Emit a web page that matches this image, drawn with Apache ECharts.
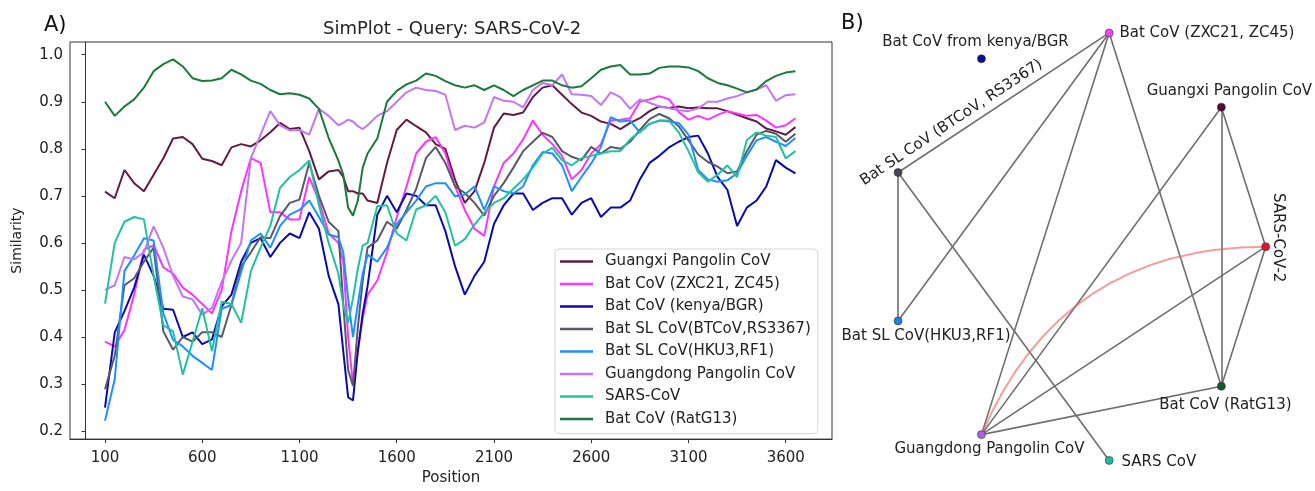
<!DOCTYPE html>
<html>
<head>
<meta charset="utf-8">
<title>SimPlot - Query: SARS-CoV-2</title>
<script src="https://cdn.jsdelivr.net/npm/echarts@6/dist/echarts.min.js"></script>
<style>
  html, body { margin: 0; padding: 0; background: #fff; }
  #chart { width: 1315px; height: 491px; }
</style>
</head>
<body>
<div id="chart"></div>
<script>
// genome position (window centre) for every sample
const positions = [
  100, 150, 200, 250, 300, 350, 400, 450, 500, 550,
  600, 650, 700, 750, 800, 850, 900, 950, 1000, 1050,
  1100, 1150, 1200, 1250, 1300, 1325, 1350, 1375, 1400, 1425, 1450,
  1500, 1550, 1600, 1650, 1700, 1750, 1800, 1850, 1900, 1950,
  2000, 2050, 2100, 2150, 2200, 2250, 2300, 2350, 2400, 2450,
  2500, 2550, 2600, 2650, 2700, 2750, 2800, 2850, 2900, 2950,
  3000, 3050, 3100, 3150, 3200, 3250, 3300, 3350, 3400, 3450,
  3500, 3550, 3600, 3650
];

const guangxi = [
  0.709, 0.695, 0.755, 0.727, 0.710, 0.745, 0.780, 0.822, 0.825, 0.810,
  0.779, 0.774, 0.765, 0.803, 0.810, 0.805, 0.818, 0.835, 0.855, 0.842,
  0.845, 0.795, 0.735, 0.752, 0.755, 0.740, 0.710, 0.710, 0.705, 0.705, 0.690,
  0.685, 0.770, 0.840, 0.862, 0.848, 0.835, 0.810, 0.800, 0.734, 0.685,
  0.710, 0.770, 0.845, 0.875, 0.872, 0.877, 0.910, 0.930, 0.935, 0.915,
  0.895, 0.877, 0.870, 0.858, 0.853, 0.842, 0.855, 0.865, 0.880, 0.890,
  0.887, 0.890, 0.886, 0.888, 0.886, 0.886, 0.880, 0.872, 0.865, 0.858,
  0.843, 0.837, 0.830, 0.846
];
const zxc21 = [
  0.390, 0.380, 0.415, 0.490, 0.585, 0.595, 0.548, 0.535, 0.505, 0.490,
  0.470, 0.450, 0.500, 0.625, 0.710, 0.780, 0.770, 0.665, 0.665, 0.650,
  0.650, 0.740, 0.690, 0.620, 0.600, 0.560, 0.400, 0.300, 0.370, 0.440, 0.490,
  0.520, 0.580, 0.655, 0.720, 0.790, 0.815, 0.825, 0.790, 0.720, 0.670,
  0.630, 0.615, 0.720, 0.770, 0.790, 0.820, 0.860, 0.830, 0.810, 0.785,
  0.735, 0.755, 0.790, 0.810, 0.860, 0.862, 0.865, 0.900, 0.905, 0.912,
  0.905, 0.878, 0.862, 0.870, 0.862, 0.872, 0.880, 0.875, 0.870, 0.872,
  0.860, 0.845, 0.850, 0.865
];
const kenya = [
  0.250, 0.410, 0.455, 0.505, 0.575, 0.530, 0.460, 0.458, 0.400, 0.410,
  0.385, 0.395, 0.465, 0.490, 0.560, 0.600, 0.610, 0.570, 0.600, 0.620,
  0.610, 0.665, 0.630, 0.530, 0.470, 0.370, 0.272, 0.265, 0.370, 0.450, 0.508,
  0.660, 0.700, 0.665, 0.705, 0.700, 0.680, 0.680, 0.625, 0.550, 0.490,
  0.530, 0.560, 0.640, 0.680, 0.705, 0.705, 0.670, 0.685, 0.695, 0.695,
  0.660, 0.685, 0.695, 0.655, 0.675, 0.675, 0.690, 0.735, 0.770, 0.785,
  0.803, 0.815, 0.825, 0.828, 0.790, 0.740, 0.713, 0.636, 0.675, 0.690,
  0.720, 0.776, 0.760, 0.748
];
const btcov = [
  0.289, 0.360, 0.510, 0.525, 0.560, 0.590, 0.412, 0.373, 0.400, 0.390,
  0.410, 0.410, 0.400, 0.468, 0.550, 0.580, 0.612, 0.610, 0.657, 0.685,
  0.692, 0.770, 0.700, 0.645, 0.625, 0.470, 0.330, 0.296, 0.420, 0.520, 0.590,
  0.605, 0.645, 0.630, 0.670, 0.715, 0.780, 0.804, 0.770, 0.720, 0.706,
  0.685, 0.658, 0.700, 0.727, 0.760, 0.795, 0.815, 0.834, 0.825, 0.795,
  0.783, 0.776, 0.804, 0.790, 0.804, 0.800, 0.815, 0.840, 0.863, 0.874,
  0.865, 0.848, 0.818, 0.788, 0.772, 0.762, 0.748, 0.752, 0.795, 0.830,
  0.838, 0.832, 0.815, 0.832
];
const hku3 = [
  0.222, 0.310, 0.540, 0.573, 0.610, 0.605, 0.450, 0.394, 0.380, 0.360,
  0.345, 0.330, 0.460, 0.468, 0.538, 0.605, 0.620, 0.590, 0.636, 0.660,
  0.670, 0.690, 0.655, 0.618, 0.612, 0.580, 0.482, 0.400, 0.470, 0.535, 0.575,
  0.560, 0.590, 0.640, 0.665, 0.690, 0.720, 0.727, 0.727, 0.699, 0.703,
  0.720, 0.670, 0.720, 0.710, 0.705, 0.720, 0.765, 0.793, 0.790, 0.765,
  0.710, 0.740, 0.769, 0.804, 0.867, 0.858, 0.860, 0.835, 0.853, 0.860,
  0.858, 0.855, 0.830, 0.755, 0.735, 0.730, 0.733, 0.748, 0.785, 0.818,
  0.825, 0.815, 0.806, 0.823
];
const guangdong = [
  0.500, 0.510, 0.570, 0.565, 0.580, 0.635, 0.590, 0.530, 0.486, 0.480,
  0.447, 0.462, 0.517, 0.562, 0.600, 0.780, 0.830, 0.880, 0.850, 0.839,
  0.840, 0.830, 0.885, 0.870, 0.850, 0.855, 0.862, 0.858, 0.848, 0.842, 0.850,
  0.870, 0.880, 0.900, 0.920, 0.930, 0.925, 0.923, 0.915, 0.840, 0.849,
  0.845, 0.856, 0.910, 0.902, 0.900, 0.888, 0.925, 0.940, 0.935, 0.958,
  0.916, 0.915, 0.912, 0.893, 0.920, 0.910, 0.885, 0.905, 0.898, 0.890,
  0.886, 0.882, 0.880, 0.886, 0.900, 0.900, 0.907, 0.912, 0.920, 0.926,
  0.935, 0.902, 0.914, 0.916
];
const sarsCov = [
  0.471, 0.600, 0.645, 0.655, 0.650, 0.530, 0.425, 0.412, 0.320, 0.390,
  0.461, 0.370, 0.475, 0.470, 0.430, 0.540, 0.590, 0.636, 0.717, 0.740,
  0.755, 0.775, 0.680, 0.600, 0.535, 0.468, 0.430, 0.482, 0.545, 0.594, 0.600,
  0.678, 0.680, 0.620, 0.605, 0.671, 0.680, 0.700, 0.665, 0.594, 0.608,
  0.639, 0.664, 0.685, 0.695, 0.715, 0.735, 0.760, 0.790, 0.802, 0.776,
  0.765, 0.780, 0.785, 0.790, 0.795, 0.795, 0.820, 0.836, 0.853, 0.860,
  0.860, 0.835, 0.795, 0.750, 0.730, 0.745, 0.765, 0.740, 0.818, 0.835,
  0.828, 0.825, 0.780, 0.795
];
const ratg13 = [
  0.900, 0.870, 0.890, 0.905, 0.930, 0.965, 0.980, 0.990, 0.975, 0.950,
  0.944, 0.945, 0.950, 0.968, 0.958, 0.945, 0.938, 0.925, 0.916, 0.918,
  0.915, 0.907, 0.885, 0.823, 0.775, 0.745, 0.675, 0.658, 0.690, 0.760, 0.790,
  0.822, 0.900, 0.923, 0.937, 0.945, 0.960, 0.955, 0.944, 0.935, 0.930,
  0.935, 0.925, 0.935, 0.925, 0.912, 0.925, 0.935, 0.945, 0.945, 0.935,
  0.930, 0.933, 0.950, 0.968, 0.975, 0.978, 0.958, 0.958, 0.960, 0.972,
  0.975, 0.975, 0.973, 0.965, 0.950, 0.940, 0.935, 0.928, 0.920, 0.926,
  0.944, 0.955, 0.962, 0.965
];

const seriesNames = [
  'Guangxi Pangolin CoV', 'Bat CoV (ZXC21, ZC45)', 'Bat CoV (kenya/BGR)',
  'Bat SL CoV(BTCoV,RS3367)', 'Bat SL CoV(HKU3,RF1)', 'Guangdong Pangolin CoV',
  'SARS-CoV', 'Bat CoV (RatG13)'
];
const seriesValues = [guangxi, zxc21, kenya, btcov, hku3, guangdong, sarsCov, ratg13];
const lineColors = ['#631a44', '#ff33ff', '#0a0aa8', '#585868', '#1e8fff', '#c276f2', '#1fc2a0', '#1a7a3e'];

const xTicks = [100, 600, 1100, 1600, 2100, 2600, 3100, 3600];
const yTicks = [0.2, 0.3, 0.4, 0.5, 0.6, 0.7, 0.8, 0.9, 1.0];

// network panel (B)
const nodeNames = [
  'SARS-CoV-2', 'Guangxi Pangolin CoV', 'Bat CoV (ZXC21, ZC45)', 'Bat CoV from kenya/BGR',
  'Bat SL CoV (BTCoV, RS3367)', 'Bat SL CoV(HKU3,RF1)', 'Guangdong Pangolin CoV',
  'SARS CoV', 'Bat CoV (RatG13)'
];
const nodeX = [1.0, 0.766, 0.174, -0.5, -0.94, -0.94, -0.5, 0.174, 0.766];
const nodeY = [0.0, 0.643, 0.985, 0.866, 0.342, -0.342, -0.866, -0.985, -0.643];
const nodeColors = ['#e8112d', '#560a38', '#ff40ff', '#0a0aa0', '#454558', '#1e7fe6', '#b05fe0', '#1abc9c', '#0f5a2a'];
const edges = [
  ['Bat CoV (ZXC21, ZC45)', 'Bat SL CoV (BTCoV, RS3367)'],
  ['Bat CoV (ZXC21, ZC45)', 'Bat SL CoV(HKU3,RF1)'],
  ['Bat CoV (ZXC21, ZC45)', 'Guangdong Pangolin CoV'],
  ['Bat CoV (ZXC21, ZC45)', 'Bat CoV (RatG13)'],
  ['Bat SL CoV (BTCoV, RS3367)', 'Bat SL CoV(HKU3,RF1)'],
  ['Bat SL CoV (BTCoV, RS3367)', 'SARS CoV'],
  ['Guangxi Pangolin CoV', 'Guangdong Pangolin CoV'],
  ['Guangxi Pangolin CoV', 'Bat CoV (RatG13)'],
  ['Guangxi Pangolin CoV', 'SARS-CoV-2'],
  ['SARS-CoV-2', 'Bat CoV (RatG13)'],
  ['Guangdong Pangolin CoV', 'SARS-CoV-2'],
  ['Guangdong Pangolin CoV', 'Bat CoV (RatG13)']
];
const highlightEdge = ['Guangdong Pangolin CoV', 'SARS-CoV-2'];

// label placement for each node
const nodeLabels = {
  'SARS-CoV-2': { position: 'inside', align: 'center', verticalAlign: 'middle', rotate: -90, offset: [-9, -12] },
  'Guangxi Pangolin CoV': { position: 'top', distance: 4, offset: [8, 0] },
  'Bat CoV (ZXC21, ZC45)': { position: 'right', distance: 6 },
  'Bat CoV from kenya/BGR': { position: 'top', distance: 5, offset: [-6, 0] },
  'Bat SL CoV (BTCoV, RS3367)': { position: 'inside', align: 'center', verticalAlign: 'middle', rotate: 33.6, offset: [72, -12] },
  'Bat SL CoV(HKU3,RF1)': { position: 'bottom', distance: 3, offset: [28, 0] },
  'Guangdong Pangolin CoV': { position: 'bottom', distance: 3, offset: [8, 0] },
  'SARS CoV': { position: 'right', distance: 8, offset: [0, 2] },
  'Bat CoV (RatG13)': { position: 'bottom', distance: 7, offset: [4, 0] }
};

const FONT = 'DejaVu Sans';
const myChart = echarts.init(document.getElementById('chart'));

const lineSeries = seriesNames.map((name, i) => ({
  name: name,
  type: 'line',
  xAxisIndex: 0,
  yAxisIndex: 0,
  data: positions.map((p, j) => [p, seriesValues[i][j]]),
  showSymbol: false,
  symbol: 'none',
  lineStyle: { width: 2, color: lineColors[i] },
  itemStyle: { color: lineColors[i] },
  silent: true
}));

const graphNodes = nodeNames.map((n, i) => ({
  name: n,
  value: [nodeX[i], nodeY[i]],
  itemStyle: { color: nodeColors[i], borderColor: '#333', borderWidth: 0.6 },
  label: Object.assign({ show: true }, nodeLabels[n])
}));
const graphLinks = edges.map(e => ({ source: e[0], target: e[1] }));
graphLinks.push({
  source: highlightEdge[0],
  target: highlightEdge[1],
  lineStyle: { color: 'rgba(240, 90, 90, 0.6)', width: 2, curveness: 0.33 }
});

myChart.setOption({
  animation: false,
  textStyle: { fontFamily: FONT },
  title: [
    { text: 'SimPlot - Query: SARS-CoV-2', left: 318, top: 15,
      textStyle: { fontFamily: FONT, fontSize: 18, fontWeight: 'normal', color: '#222' } },
    { text: 'A)', left: 39, top: 10,
      textStyle: { fontFamily: FONT, fontSize: 21, fontWeight: 'normal', color: '#111' } },
    { text: 'B)', left: 836, top: 8,
      textStyle: { fontFamily: FONT, fontSize: 21, fontWeight: 'normal', color: '#111' } }
  ],
  legend: {
    data: seriesNames,
    orient: 'vertical',
    left: 555,
    top: 249,
    padding: [5, 7, 7, 5],
    itemWidth: 33,
    itemHeight: 2.5,
    itemGap: 7.5,
    icon: 'rect',
    borderColor: '#d5d5d5',
    borderWidth: 1,
    borderRadius: 4,
    backgroundColor: 'rgba(255,255,255,0.8)',
    selectedMode: false,
    textStyle: { fontFamily: FONT, fontSize: 15, color: '#222', lineHeight: 15, padding: [0, 0, 0, 7] }
  },
  grid: [
    { left: 70, top: 42, width: 762, height: 402, show: true, borderColor: '#333', borderWidth: 1 },
    { left: 886.7, top: 29.7, width: 379, height: 434 }
  ],
  xAxis: [
    {
      type: 'value', gridIndex: 0, min: -80, max: 3838,
      name: 'Position', nameLocation: 'middle', nameGap: 31,
      nameTextStyle: { fontFamily: FONT, fontSize: 15, color: '#222' },
      axisLine: { show: true, lineStyle: { color: '#333' } },
      axisTick: { show: true, length: 4, customValues: xTicks, lineStyle: { color: '#333' } },
      axisLabel: { customValues: xTicks, margin: 12, fontSize: 15, color: '#222', fontFamily: FONT,
        formatter: v => String(v) },
      splitLine: { show: false }
    },
    { type: 'value', gridIndex: 1, min: -1, max: 1, show: false }
  ],
  yAxis: [
    {
      type: 'value', gridIndex: 0, min: 0.183, max: 1.027,
      name: 'Similarity', nameLocation: 'middle', nameGap: 46, nameRotate: 90,
      nameTextStyle: { fontFamily: FONT, fontSize: 14, color: '#222' },
      axisLine: { show: true, lineStyle: { color: '#333' } },
      axisTick: { show: true, length: 4, customValues: yTicks, lineStyle: { color: '#333' } },
      axisLabel: { customValues: yTicks, margin: 7, fontSize: 15, color: '#222', fontFamily: FONT,
        formatter: v => v.toFixed(1) },
      splitLine: { show: false }
    },
    { type: 'value', gridIndex: 1, min: -1, max: 1, show: false }
  ],
  series: lineSeries.concat([{
    type: 'graph',
    coordinateSystem: 'cartesian2d',
    xAxisIndex: 1,
    yAxisIndex: 1,
    symbolSize: 8,
    silent: true,
    data: graphNodes,
    links: graphLinks,
    lineStyle: { color: '#6e6e6e', width: 1.6, opacity: 1, curveness: 0 },
    label: { show: true, fontFamily: FONT, fontSize: 15, color: '#222' },
    emphasis: { disabled: true }
  }])
});
</script>
</body>
</html>
